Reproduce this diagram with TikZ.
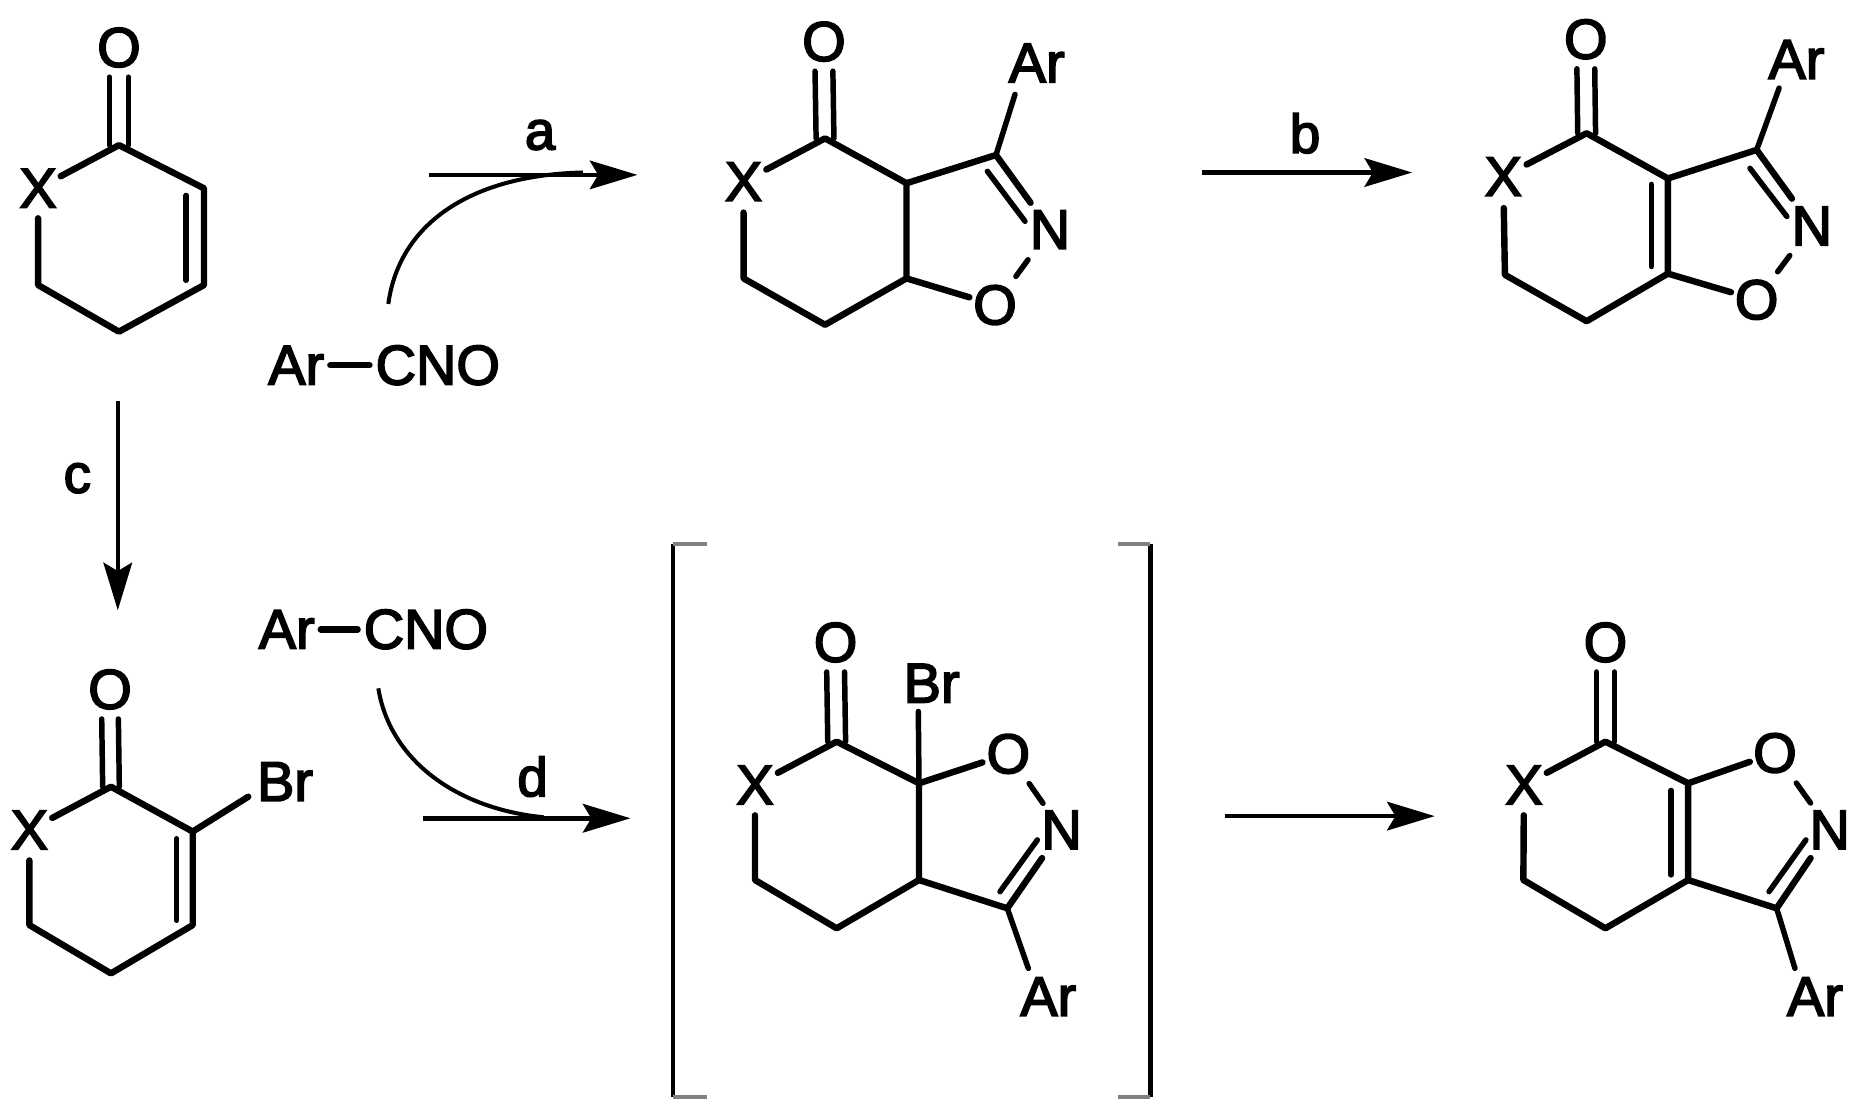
\documentclass[tikz,border=0pt]{standalone}
\usepackage{fontspec}
\setmainfont{Liberation Sans}[FakeBold=3]
\usetikzlibrary{arrows.meta,calc}
\tikzset{
  x=1pt,y=-1pt,
  atom/.style={inner sep=5pt,font=\fontsize{47}{47}\selectfont,text=black},
  lab/.style={inner sep=0pt,font=\fontsize{46}{46}\selectfont,text=black},
  bond/.style={line width=5.4pt,line cap=round,line join=round,draw=black},
  thin bond/.style={line width=4.6pt,line cap=round,draw=black},
  rxn/.style={line width=3.8pt,draw=black,-{Stealth[length=40pt,width=24pt,inset=7pt]}},
  feed/.style={line width=3.4pt,draw=black},
  brk/.style={line width=3.6pt,draw=black},
  tick/.style={line width=3.4pt,draw=black!50}
}
\begin{document}
\begin{tikzpicture}
\useasboundingbox (0,0) rectangle (1566,940.6);
% ---------- molecule 1
\node[atom] (o1) at (100,40) {O};
\node[atom] (x1) at (32,158.3) {X};
\coordinate (c1a) at (100,122);
\coordinate (c1b) at (171.5,158.3);
\coordinate (c1c) at (171.5,239.6);
\coordinate (c1d) at (100,278.8);
\coordinate (c1e) at (32,239.6);
\draw[bond] ($(x1.center)!.28!(c1a)$) -- (c1a) -- (c1b) -- (c1c) -- (c1d) -- (c1e) -- ($(x1.center)!.31!(c1e)$);
\draw[thin bond] ([shift={(-8,3)}]o1.south) -- ([xshift=-8pt]c1a);
\draw[thin bond] ([shift={(8,3)}]o1.south) -- ([xshift=8pt]c1a);
\draw[thin bond] ([shift={(-15,6)}]c1b) -- ([shift={(-15,-4)}]c1c);
% ---------- reaction a
\node[atom] (ar1) at (249,307) {Ar};
\node[atom] (cno1) at (368,307) {CNO};
\draw[bond] (ar1) -- (cno1);
\coordinate (a1s) at (360.4,147);
\coordinate (a1e) at (535.8,147);
\coordinate (a1f) at (490,145);
\coordinate (a1c) at (326.4,255.5);
\draw[rxn] (a1s) -- (a1e);
\draw[feed] (a1c) .. controls (336,185) and (400,147) .. (a1f);
\node[lab] (la) at (454,113.5) {a};
% ---------- molecule 2
\node[atom] (o2) at (692.6,35) {O};
\node[atom] (x2) at (625,152.7) {X};
\node[atom] (n2) at (882.6,193) {N};
\node[atom] (oo2) at (836.4,256.4) {O};
\node[atom] (ar2) at (871.4,53) {Ar};
\coordinate (c2a) at (693.5,116.3);
\coordinate (c2b) at (762,154);
\coordinate (c2c) at (762,234);
\coordinate (c2d) at (693.5,273);
\coordinate (c2e) at (625,234);
\coordinate (c2f) at (837.2,130.3);
\coordinate (e2ar) at (853.2,79.3);
\draw[bond] ($(x2.center)!.28!(c2a)$) -- (c2a) -- (c2b) -- (c2c) -- (c2d) -- (c2e) -- ($(x2.center)!.32!(c2e)$);
\draw[thin bond] ([shift={(-7.5,3)}]o2.south) -- ([xshift=-7.5pt]c2a);
\draw[thin bond] ([shift={(7.5,3)}]o2.south) -- ([xshift=7.5pt]c2a);
\draw[bond] (c2b) -- (c2f) -- ($(c2f)!.64!(n2.center)$);
\draw[thin bond] (830,144) -- (861.6,186);
\draw[bond] (c2c) -- ($(c2c)!.71!(oo2.center)$);
\draw[thin bond] ($(oo2.center)!.38!(n2.center)$) -- ($(oo2.center)!.6!(n2.center)$);
\draw[thin bond] (c2f) -- (e2ar);
% ---------- reaction b
\coordinate (b1s) at (1010,145);
\coordinate (b1e) at (1187,145);
\draw[rxn] (b1s) -- (b1e);
\node[lab] (lb) at (1097,112) {b};
% ---------- molecule 3
\node[atom] (o3) at (1333,33) {O};
\node[atom] (x3) at (1263.6,148.5) {X};
\node[atom] (n3) at (1523,190) {N};
\node[atom] (oo3) at (1476.6,252) {O};
\node[atom] (ar3) at (1510,50) {Ar};
\coordinate (c3a) at (1333.7,112);
\coordinate (c3b) at (1402,150);
\coordinate (c3c) at (1402,230);
\coordinate (c3d) at (1333.7,270);
\coordinate (c3e) at (1265,231);
\coordinate (c3f) at (1476.6,126);
\coordinate (e3ar) at (1495.5,74);
\draw[bond] ($(x3.center)!.28!(c3a)$) -- (c3a) -- (c3b) -- (c3c) -- (c3d) -- (c3e) -- ($(x3.center)!.32!(c3e)$);
\draw[thin bond] ([shift={(-7.5,3)}]o3.south) -- ([xshift=-7.5pt]c3a);
\draw[thin bond] ([shift={(7.5,3)}]o3.south) -- ([xshift=7.5pt]c3a);
\draw[thin bond] ([shift={(-14,5)}]c3b) -- ([shift={(-14,-6)}]c3c);
\draw[bond] (c3b) -- (c3f) -- ($(c3f)!.64!(n3.center)$);
\draw[thin bond] (1471,141.5) -- (1502,182);
\draw[bond] (c3c) -- ($(c3c)!.71!(oo3.center)$);
\draw[thin bond] ($(oo3.center)!.38!(n3.center)$) -- ($(oo3.center)!.6!(n3.center)$);
\draw[thin bond] (c3f) -- (e3ar);
% ---------- reaction c
\coordinate (c0s) at (99,337);
\coordinate (c0e) at (99,513);
\draw[rxn] (c0s) -- (c0e);
\node[lab] (lc) at (65,402) {c};
% ---------- molecule 4
\node[atom] (o4) at (92.5,579.5) {O};
\node[atom] (x4) at (24.7,697.7) {X};
\node[atom] (br4) at (239.6,657) {Br};
\coordinate (c4a) at (93.3,661.3);
\coordinate (c4b) at (162,699);
\coordinate (c4c) at (162,777.6);
\coordinate (c4d) at (93.3,818.2);
\coordinate (c4e) at (24.7,777.6);
\coordinate (e4br) at (208.7,669.7);
\draw[bond] ($(x4.center)!.28!(c4a)$) -- (c4a) -- (c4b) -- (c4c) -- (c4d) -- (c4e) -- ($(x4.center)!.32!(c4e)$);
\draw[thin bond] ([shift={(-7,3)}]o4.south) -- ([xshift=-7pt]c4a);
\draw[thin bond] ([shift={(7,3)}]o4.south) -- ([xshift=7pt]c4a);
\draw[thin bond] ([shift={(-13.5,6)}]c4b) -- ([shift={(-13.5,-4)}]c4c);
\draw[bond] (c4b) -- (e4br);
% ---------- reaction d
\node[atom] (ar5) at (241,529) {Ar};
\node[atom] (cno5) at (358,529) {CNO};
\draw[bond] (ar5) -- (cno5);
\coordinate (d1s) at (355.2,687.8);
\coordinate (d1e) at (530,687.8);
\coordinate (d1f) at (457,687);
\coordinate (d1c) at (318,578.6);
\draw[rxn] (d1s) -- (d1e);
\draw[feed] (d1c) .. controls (328,640) and (385,680) .. (d1f);
\node[lab] (ld) at (447.7,652.8) {d};
% ---------- brackets
\coordinate (bl1) at (594,457);
\coordinate (bl2) at (566,457);
\coordinate (bl3) at (566,922);
\coordinate (bl4) at (594,922);
\coordinate (br1) at (940,457);
\coordinate (br2) at (967,457);
\coordinate (br3) at (967,922);
\coordinate (br5) at (940,922);
\draw[brk] (bl2) -- (bl3);
\draw[brk] (br2) -- (br3);
\draw[tick] (bl1) -- (bl2);
\draw[tick] (bl3) -- (bl4);
\draw[tick] (br1) -- (br2);
\draw[tick] (br3) -- (br5);
% ---------- molecule 5
\node[atom] (o5) at (702.4,540) {O};
\node[atom] (x5) at (634.6,659.8) {X};
\node[atom] (b5) at (783.1,574.3) {Br};
\node[atom] (oo5) at (847.6,633.7) {O};
\node[atom] (n5) at (892.4,697.6) {N};
\node[atom] (ar6) at (881.2,837.7) {Ar};
\coordinate (c5a) at (703.3,623.4);
\coordinate (c5b) at (772.5,658.4);
\coordinate (c5c) at (772.5,739.7);
\coordinate (c5d) at (703.3,780.3);
\coordinate (c5e) at (634.6,739.7);
\coordinate (c5f) at (846.7,763.5);
\coordinate (e5br) at (771.9,598);
\coordinate (e5ar) at (864.4,814);
\draw[bond] ($(x5.center)!.28!(c5a)$) -- (c5a) -- (c5b) -- (c5c) -- (c5d) -- (c5e) -- ($(x5.center)!.32!(c5e)$);
\draw[thin bond] ([shift={(-7.5,3)}]o5.south) -- ([xshift=-7.5pt]c5a);
\draw[thin bond] ([shift={(7.5,3)}]o5.south) -- ([xshift=7.5pt]c5a);
\draw[thin bond] (c5b) -- (e5br);
\draw[bond] (c5b) -- ($(c5b)!.71!(oo5.center)$);
\draw[thin bond] ($(oo5.center)!.39!(n5.center)$) -- ($(oo5.center)!.65!(n5.center)$);
\draw[bond] (c5c) -- (c5f) -- ($(c5f)!.64!(n5.center)$);
\draw[thin bond] (840.6,749.5) -- (872,706);
\draw[thin bond] (c5f) -- (e5ar);
% ---------- last reaction
\coordinate (e1s) at (1030,686);
\coordinate (e1e) at (1206,686);
\draw[rxn] (e1s) -- (e1e);
% ---------- molecule 6
\node[atom] (o6) at (1349.5,540) {O};
\node[atom] (x6) at (1281,659.8) {X};
\node[atom] (oo6) at (1492,633) {O};
\node[atom] (n6) at (1538,697.6) {N};
\node[atom] (ar7) at (1525.6,837.7) {Ar};
\coordinate (c6a) at (1349.5,623.4);
\coordinate (c6b) at (1419,658.4);
\coordinate (c6c) at (1419,739.7);
\coordinate (c6d) at (1349.5,780.3);
\coordinate (c6e) at (1280.5,739.7);
\coordinate (c6f) at (1493.4,763.5);
\coordinate (e6ar) at (1508.8,814);
\draw[bond] ($(x6.center)!.28!(c6a)$) -- (c6a) -- (c6b) -- (c6c) -- (c6d) -- (c6e) -- ($(x6.center)!.32!(c6e)$);
\draw[thin bond] ([shift={(-7.5,3)}]o6.south) -- ([xshift=-7.5pt]c6a);
\draw[thin bond] ([shift={(7.5,3)}]o6.south) -- ([xshift=7.5pt]c6a);
\draw[thin bond] ([shift={(-14.4,6)}]c6b) -- ([shift={(-14.4,-4.3)}]c6c);
\draw[bond] (c6b) -- ($(c6b)!.71!(oo6.center)$);
\draw[thin bond] ($(oo6.center)!.39!(n6.center)$) -- ($(oo6.center)!.65!(n6.center)$);
\draw[bond] (c6c) -- (c6f) -- ($(c6f)!.64!(n6.center)$);
\draw[thin bond] (1487,749.5) -- (1518,706);
\draw[thin bond] (c6f) -- (e6ar);
\end{tikzpicture}
\end{document}
